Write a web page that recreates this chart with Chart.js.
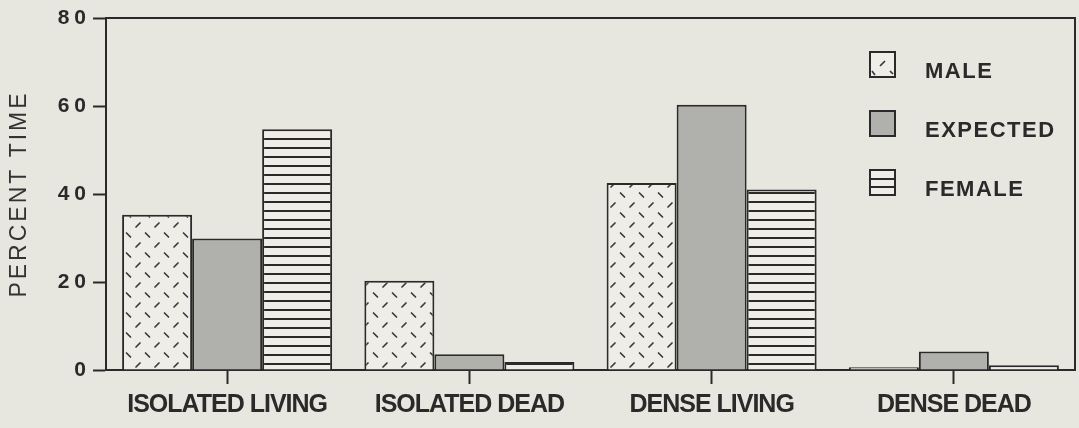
<!DOCTYPE html>
<html>
<head>
<meta charset="utf-8">
<script src="https://cdn.jsdelivr.net/npm/chart.js@4.4.1/dist/chart.umd.min.js"></script>
<style>
  html, body { margin: 0; padding: 0; background: #e8e7df; }
  canvas { display: block; }
</style>
</head>
<body>
<canvas id="c" width="1079" height="428"></canvas>
<script>
// ---- data ----
const categories = ['ISOLATED LIVING', 'ISOLATED DEAD', 'DENSE LIVING', 'DENSE DEAD'];
const seriesNames = ['MALE', 'EXPECTED', 'FEMALE'];
const maleValues = [35.3, 20.3, 42.5, 0.6];
const expectedValues = [29.9, 3.6, 60.3, 4.2];
const femaleValues = [54.7, 1.8, 41.0, 1.1];
const yTicks = [0, 20, 40, 60, 80];
const yTitle = 'PERCENT TIME';

// ---- styles ----
const BG = '#e8e7df';
const INK = '#2a2a2a';
const GRAY = '#b0b0ad';

function makeMalePattern(ctx) {
  const t = document.createElement('canvas');
  t.width = 19; t.height = 20;
  const g = t.getContext('2d');
  g.fillStyle = '#eeede7';
  g.fillRect(0, 0, 19, 20);
  g.strokeStyle = '#3a3a3a';
  g.lineWidth = 1.7;
  g.lineCap = 'round';
  g.beginPath();
  // "/" dash
  g.moveTo(3, 7); g.lineTo(7, 3);
  // "\" dash
  g.moveTo(12.5, 13); g.lineTo(16.5, 17);
  g.stroke();
  return ctx.createPattern(t, 'repeat');
}
function makeFemalePattern(ctx) {
  const t = document.createElement('canvas');
  t.width = 4; t.height = 9;
  const g = t.getContext('2d');
  g.fillStyle = '#eeede7';
  g.fillRect(0, 0, 4, 9);
  g.fillStyle = '#2a2a2a';
  g.fillRect(0, 3, 4, 2);
  return ctx.createPattern(t, 'repeat');
}

const canvas = document.getElementById('c');
const ctx0 = canvas.getContext('2d');
const malePat = makeMalePattern(ctx0);
const femalePat = makeFemalePattern(ctx0);

function patchSpacing(scale, method, sp) {
  const key = '__sp_' + method;
  if (scale[key]) return;
  const orig = scale[method];
  scale[method] = function (...args) {
    const c = this.ctx;
    const prev = c.letterSpacing;
    c.letterSpacing = sp;
    try { return orig.apply(this, args); } finally { c.letterSpacing = prev; }
  };
  scale[key] = true;
}

const bgPlugin = {
  id: 'bg',
  beforeDraw(chart) {
    const c = chart.ctx;
    c.save();
    c.fillStyle = BG;
    c.fillRect(0, 0, chart.width, chart.height);
    c.restore();
    patchSpacing(chart.scales.y, 'drawLabels', '5px');
    patchSpacing(chart.scales.y, 'drawTitle', '3px');
    patchSpacing(chart.scales.x, 'drawLabels', '-1px');
  }
};

const framePlugin = {
  id: 'frame',
  afterDraw(chart) {
    const a = chart.chartArea;
    const c = chart.ctx;
    c.save();
    c.strokeStyle = INK;
    c.lineWidth = 2;
    c.beginPath();
    c.moveTo(a.left, a.top);
    c.lineTo(a.right, a.top);
    c.lineTo(a.right, a.bottom);
    c.stroke();
    c.restore();
  }
};

const legendPlugin = {
  id: 'customLegend',
  afterDatasetsDraw(chart) {
    const c = chart.ctx;
    const fills = [malePat, GRAY, null];
    const boxX = 870, size = 25, textX = 925;
    const textY = [72, 131, 190];
    c.save();
    chart.data.datasets.forEach((ds, i) => {
      const by = textY[i] - 20;
      c.lineWidth = 2;
      c.strokeStyle = INK;
      if (i === 2) {
        c.fillStyle = '#eeede7';
        c.fillRect(boxX, by, size, size);
        c.beginPath();
        c.moveTo(boxX, by + 9); c.lineTo(boxX + size, by + 9);
        c.moveTo(boxX, by + 17); c.lineTo(boxX + size, by + 17);
        c.stroke();
      } else if (i === 0) {
        c.fillStyle = '#eeede7';
        c.fillRect(boxX, by, size, size);
        c.strokeStyle = '#3a3a3a';
        c.lineWidth = 1.7;
        c.beginPath();
        c.moveTo(boxX + 10, by + 14); c.lineTo(boxX + 15, by + 9);
        c.moveTo(boxX + 2, by + 19); c.lineTo(boxX + 5, by + 23);
        c.moveTo(boxX + 20, by + 19); c.lineTo(boxX + 23, by + 22);
        c.stroke();
        c.strokeStyle = INK;
        c.lineWidth = 2;
      } else {
        c.fillStyle = fills[i];
        c.fillRect(boxX, by, size, size);
      }
      c.strokeRect(boxX, by, size, size);
      c.fillStyle = INK;
      c.font = 'bold 22px "Liberation Sans", Arial, sans-serif';
      c.letterSpacing = '1.5px';
      c.textBaseline = 'middle';
      c.textAlign = 'left';
      c.fillText(ds.label, textX, textY[i]);
    });
    c.restore();
  }
};

new Chart(canvas, {
  type: 'bar',
  data: {
    labels: categories,
    datasets: [
      { label: seriesNames[0], data: maleValues, backgroundColor: malePat },
      { label: seriesNames[1], data: expectedValues, backgroundColor: GRAY },
      { label: seriesNames[2], data: femaleValues, backgroundColor: femalePat }
    ]
  },
  options: {
    responsive: false,
    devicePixelRatio: 1,
    animation: false,
    layout: { padding: { top: 18, right: 4, left: 0, bottom: 0 } },
    datasets: {
      bar: {
        borderColor: INK,
        borderWidth: 2,
        borderSkipped: 'start',
        barPercentage: 1.0,
        categoryPercentage: 0.867
      }
    },
    plugins: {
      legend: { display: false },
      tooltip: { enabled: false },
      title: { display: false }
    },
    scales: {
      x: {
        offset: true,
        grid: {
          offset: false,
          drawOnChartArea: false,
          drawTicks: true,
          tickLength: 14,
          tickWidth: 2,
          tickColor: INK,
          color: INK
        },
        border: { display: true, color: INK, width: 2 },
        ticks: {
          color: INK,
          padding: 6,
          maxRotation: 0,
          autoSkip: false,
          font: { family: '"Liberation Sans", Arial, sans-serif', size: 25, weight: 'bold' }
        },
        afterFit(scale) { scale.height = 58; }
      },
      y: {
        min: 0,
        max: 80,
        afterBuildTicks(scale) { scale.ticks = yTicks.map(v => ({ value: v })); },
        grid: {
          drawOnChartArea: false,
          drawTicks: true,
          tickLength: 13,
          tickWidth: 2,
          tickColor: INK,
          color: INK
        },
        border: { display: true, color: INK, width: 2 },
        ticks: {
          color: INK,
          padding: 2,
          font: { family: '"Liberation Sans", Arial, sans-serif', size: 21, weight: 'bold' }
        },
        title: {
          display: true,
          text: yTitle,
          color: '#333333',
          padding: { top: 6, bottom: 0 },
          font: { family: '"Liberation Sans", Arial, sans-serif', size: 23, weight: 'normal' }
        },
        afterFit(scale) { scale.width = 106; }
      }
    }
  },
  plugins: [bgPlugin, framePlugin, legendPlugin]
});
</script>
</body>
</html>
